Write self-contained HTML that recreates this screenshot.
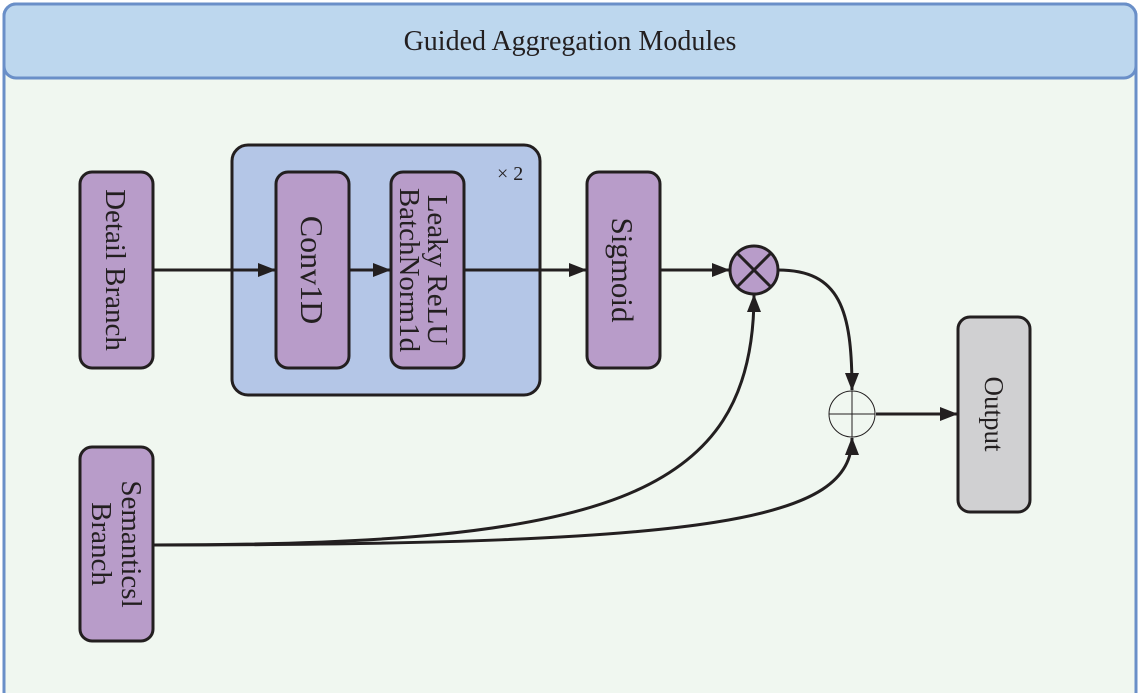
<!DOCTYPE html>
<html><head><meta charset="utf-8"><style>
html,body{margin:0;padding:0;background:#fff;}
svg{display:block;}
</style></head><body>
<svg width="1140" height="693" viewBox="0 0 1140 693" xmlns="http://www.w3.org/2000/svg" font-family="'Liberation Serif', 'DejaVu Serif', serif">
<defs>
<marker id="a" markerWidth="18" markerHeight="14" refX="17" refY="7" orient="auto" markerUnits="userSpaceOnUse">
<path d="M0,0 L18,7 L0,14 Z" fill="#231f20"/>
</marker>
</defs>
<rect x="4" y="4" width="1132" height="700" rx="12" fill="#f0f7f0" stroke="#6a8fc8" stroke-width="3"/>
<rect x="4" y="4" width="1132" height="74" rx="12" fill="#bdd7ee" stroke="#6a8fc8" stroke-width="3"/>
<text x="570" y="50" font-size="28" text-anchor="middle" fill="#231f20" font-family="Liberation Serif, serif">Guided Aggregation Modules</text>

<rect x="232" y="145" width="308" height="250" rx="16" fill="#b4c6e7" stroke="#231f20" stroke-width="3"/>
<text x="497" y="180" font-size="20" fill="#231f20" font-family="Liberation Serif, serif">× 2</text>

<g fill="#b89cc9" stroke="#231f20" stroke-width="3">
<rect x="80" y="172" width="73" height="196" rx="12"/>
<rect x="276" y="172" width="73" height="196" rx="12"/>
<rect x="391" y="172" width="73" height="196" rx="12"/>
<rect x="587" y="172" width="73" height="196" rx="12"/>
<rect x="80" y="447" width="73" height="194" rx="12"/>
</g>
<rect x="958" y="317" width="72" height="195" rx="12" fill="#d0d0d2" stroke="#231f20" stroke-width="3"/>

<g font-size="29" fill="#231f20" font-family="Liberation Serif, serif">
<text transform="translate(106,270) rotate(90)" text-anchor="middle">Detail Branch</text>
<text transform="translate(301,270) rotate(90)" text-anchor="middle" font-size="32">Conv1D</text>
<text transform="translate(428,270) rotate(90)" text-anchor="middle">Leaky ReLU</text>
<text transform="translate(400,270) rotate(90)" text-anchor="middle">BatchNorm1d</text>
<text transform="translate(612,270) rotate(90)" text-anchor="middle" font-size="31">Sigmoid</text>
<text transform="translate(122,544) rotate(90)" text-anchor="middle">Semanticsl</text>
<text transform="translate(92,544) rotate(90)" text-anchor="middle">Branch</text>
<text transform="translate(985,414) rotate(90)" text-anchor="middle" font-size="27">Output</text>
</g>

<g stroke="#231f20" stroke-width="3" fill="none">
<line x1="153" y1="270" x2="275" y2="270" marker-end="url(#a)"/>
<line x1="349" y1="270" x2="390" y2="270" marker-end="url(#a)"/>
<line x1="464" y1="270" x2="586" y2="270" marker-end="url(#a)"/>
<line x1="660" y1="270" x2="729" y2="270" marker-end="url(#a)"/>
<path d="M778,270 C840,270 852,310 852,390" marker-end="url(#a)"/>
<path d="M153,545 C600,545 754,500 754,295" marker-end="url(#a)"/>
<path d="M153,545 C720,545 852,520 852,438" marker-end="url(#a)"/>
<line x1="876" y1="414" x2="957" y2="414" marker-end="url(#a)"/>
</g>

<circle cx="754" cy="270" r="24" fill="#b89cc9" stroke="#231f20" stroke-width="3"/>
<line x1="737" y1="253" x2="771" y2="287" stroke="#231f20" stroke-width="3"/>
<line x1="771" y1="253" x2="737" y2="287" stroke="#231f20" stroke-width="3"/>

<circle cx="852" cy="414" r="23" fill="#f0f7f0" stroke="#231f20" stroke-width="1"/>
<line x1="829" y1="414" x2="875" y2="414" stroke="#231f20" stroke-width="1"/>
<line x1="852" y1="391" x2="852" y2="437" stroke="#231f20" stroke-width="1"/>
</svg>
</body></html>
